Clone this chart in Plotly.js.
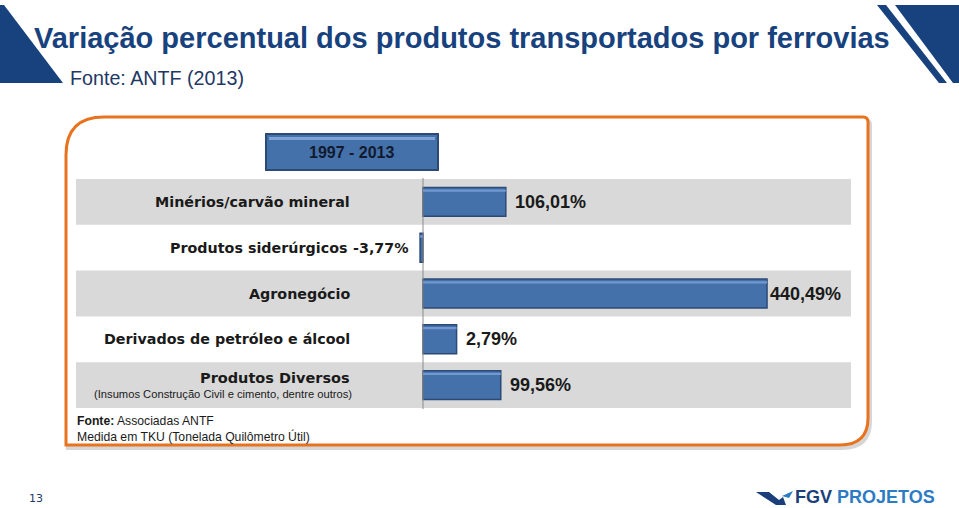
<!DOCTYPE html>
<html>
<head>
<meta charset="utf-8">
<script src="https://cdn.plot.ly/plotly-3.0.1.min.js"></script>
<style>html,body{margin:0;padding:0;background:#fff;}#chart{width:959px;height:508px;}</style>
</head>
<body>
<div id="chart"></div>
<script>
// ---- data ----
const categories = ["Minérios/carvão mineral", "Produtos siderúrgicos", "Agronegócio", "Derivados de petróleo e álcool", "Produtos Diversos"];
const barLength = [106.01, -3.77, 440.49, 43, 99.56];
const valueLabels = ["106,01%", "-3,77%", "440,49%", "2,79%", "99,56%"];
const periodLabel = "1997 - 2013";
const subNote = "(Insumos Construção Civil e cimento, dentre outros)";
const titleText = "Variação percentual dos produtos transportados por ferrovias";
const subtitleText = "Fonte: ANTF (2013)";
const footerText = "<b>Fonte:</b> Associadas ANTF<br>Medida em TKU (Tonelada Quilômetro Útil)";

// ---- helpers (page pixel -> paper) ----
const W = 959, H = 508;
const px = x => x / W;
const py = y => 1 - y / H;
const P = (x, y) => px(x).toFixed(5) + "," + py(y).toFixed(5);

const NAVY = "#17427E";
const BAR = "#4571AB";
const BARLINE = "#2B4A75";

const shapes = [];
// top-left triangle
shapes.push({type: "path", xref: "paper", yref: "paper", layer: "below",
  path: `M ${P(0,5)} L ${P(4,5)} L ${P(63,83)} L ${P(0,83)} Z`, fillcolor: NAVY, line: {width: 0}});
// top-right stripe
shapes.push({type: "path", xref: "paper", yref: "paper", layer: "below",
  path: `M ${P(877,5)} L ${P(886,5)} L ${P(947,83)} L ${P(939,83)} Z`, fillcolor: NAVY, line: {width: 0}});
// top-right big shape
shapes.push({type: "path", xref: "paper", yref: "paper", layer: "below",
  path: `M ${P(895,5)} L ${P(959,5)} L ${P(959,83)} L ${P(953,83)} Z`, fillcolor: NAVY, line: {width: 0}});
// orange frame shadow
const frame = (dx, dy) => `M ${P(104+dx,117+dy)} L ${P(863+dx,117+dy)} Q ${P(868+dx,117+dy)} ${P(868+dx,122+dy)} L ${P(868+dx,418+dy)} Q ${P(868+dx,445+dy)} ${P(840+dx,445+dy)} L ${P(66+dx,445+dy)} L ${P(66+dx,155+dy)} Q ${P(66+dx,117+dy)} ${P(104+dx,117+dy)} Z`;
shapes.push({type: "path", xref: "paper", yref: "paper", layer: "below",
  path: frame(2, 3), fillcolor: "rgba(0,0,0,0)", line: {color: "#d6d6d6", width: 4}});
shapes.push({type: "path", xref: "paper", yref: "paper", layer: "below",
  path: frame(0, 0), fillcolor: "#ffffff", line: {color: "#E8731F", width: 3}});
// grey bands
categories.forEach((c, i) => {
  if (i % 2 === 0) {
    shapes.push({type: "rect", xref: "paper", yref: "y", layer: "below",
      x0: px(76), x1: px(851), y0: i - 0.5, y1: i + 0.5, fillcolor: "#D9D9D9", line: {width: 0}});
  }
});
// header box
shapes.push({type: "rect", xref: "paper", yref: "paper", layer: "above",
  x0: px(266), x1: px(438), y0: py(170), y1: py(134), fillcolor: BAR, line: {color: BARLINE, width: 2}});
shapes.push({type: "rect", xref: "paper", yref: "paper", layer: "above",
  x0: px(269), x1: px(435), y0: py(140), y1: py(137), fillcolor: "#7EA2D3", line: {width: 0}});
// zero axis line
shapes.push({type: "line", xref: "x", yref: "paper", layer: "above",
  x0: 0, x1: 0, y0: py(409), y1: py(178), line: {color: "#8c8c8c", width: 1}});
// logo mark
shapes.push({type: "path", xref: "paper", yref: "paper",
  path: `M ${P(756,492)} L ${P(769,492)} L ${P(779,500)} L ${P(783,497)} L ${P(786,505)} L ${P(776,505)} Z`, fillcolor: "#1B3F7A", line: {width: 0}});
shapes.push({type: "path", xref: "paper", yref: "paper",
  path: `M ${P(782,496)} L ${P(793,491)} L ${P(789,498)} Z`, fillcolor: "#2C7BC4", line: {width: 0}});

const annotations = [];
annotations.push({xref: "paper", yref: "paper", x: px(32), y: py(38), xanchor: "left", yanchor: "middle",
  text: "<b>" + titleText + "</b>", showarrow: false, font: {family: "Liberation Sans", size: 29, color: NAVY}});
annotations.push({xref: "paper", yref: "paper", x: px(68), y: py(78), xanchor: "left", yanchor: "middle",
  text: subtitleText, showarrow: false, font: {family: "Liberation Sans", size: 19.7, color: "#1F3864"}});
annotations.push({xref: "paper", yref: "paper", x: px(352), y: py(152), xanchor: "center", yanchor: "middle",
  text: "<b>" + periodLabel + "</b>", showarrow: false, font: {family: "Liberation Sans", size: 16, color: "#111a2e"}});
// category labels
categories.forEach((c, i) => {
  const last = i === categories.length - 1;
  const neg = barLength[i] < 0;
  annotations.push({xref: "paper", yref: "y", x: px(neg ? 349 : 352), y: c, xanchor: "right", yanchor: "middle",
    yshift: last ? 7 : 0, text: "<b>" + c + "</b>", showarrow: false,
    font: {family: "DejaVu Sans", size: last ? 14.5 : 14.3, color: "#1a1a1a"}});
});
annotations.push({xref: "paper", yref: "y", x: px(354), y: categories[4], xanchor: "right", yanchor: "middle",
  yshift: -9, text: subNote, showarrow: false, font: {family: "Liberation Sans", size: 11.2, color: "#1a1a1a"}});
// value labels
barLength.forEach((v, i) => {
  const neg = v < 0;
  annotations.push({xref: "x", yref: "y", x: v, y: categories[i], xanchor: neg ? "right" : "left", yanchor: "middle",
    xshift: neg ? -9 : (v > 300 ? 1 : 7), text: "<b>" + valueLabels[i] + "</b>", showarrow: false,
    font: neg ? {family: "DejaVu Sans", size: 14.3, color: "#1a1a1a"} : {family: "Liberation Sans", size: 18, color: "#1a1a1a"}});
});
// footer
annotations.push({xref: "paper", yref: "paper", x: px(75), y: py(412), xanchor: "left", yanchor: "top",
  align: "left", text: footerText, showarrow: false, font: {family: "Liberation Sans", size: 12.2, color: "#1a1a1a"}});
// page number
annotations.push({xref: "paper", yref: "paper", x: px(36), y: py(498), xanchor: "center", yanchor: "middle",
  text: "13", showarrow: false, font: {family: "DejaVu Sans", size: 11, color: "#1F3864"}});
// logo text
annotations.push({xref: "paper", yref: "paper", x: px(794), y: 0, xanchor: "left", yanchor: "bottom", borderpad: 0,
  text: "<b><span style='color:#1B3F7A'>FGV</span> <span style='color:#2C7BC4'>PROJETOS</span></b>", showarrow: false,
  font: {family: "Liberation Sans", size: 18, color: "#1B3F7A"}});

const trace = {
  type: "bar", orientation: "h", y: categories, x: barLength, width: 0.63,
  marker: {color: BAR, line: {color: BARLINE, width: 1.5}},
  hoverinfo: "skip", showlegend: false
};
// top highlight of bevel
const highlight = {
  type: "bar", orientation: "h", y: categories, x: barLength, width: 0.05, offset: -0.27,
  marker: {color: "#7199D0", line: {width: 0}}, hoverinfo: "skip", showlegend: false
};

const layout = {
  width: W, height: H, autosize: false,
  margin: {l: 0, r: 0, t: 0, b: 0, pad: 0},
  paper_bgcolor: "#ffffff", plot_bgcolor: "rgba(0,0,0,0)",
  barmode: "overlay",
  xaxis: {domain: [px(76), px(851)], range: [-444.3, 548], visible: false, fixedrange: true},
  yaxis: {domain: [py(408), py(179)], type: "category", range: [4.5, -0.5], visible: false, fixedrange: true},
  shapes: shapes, annotations: annotations, showlegend: false
};

Plotly.newPlot("chart", [trace, highlight], layout, {displayModeBar: false, staticPlot: true});
</script>
</body>
</html>
